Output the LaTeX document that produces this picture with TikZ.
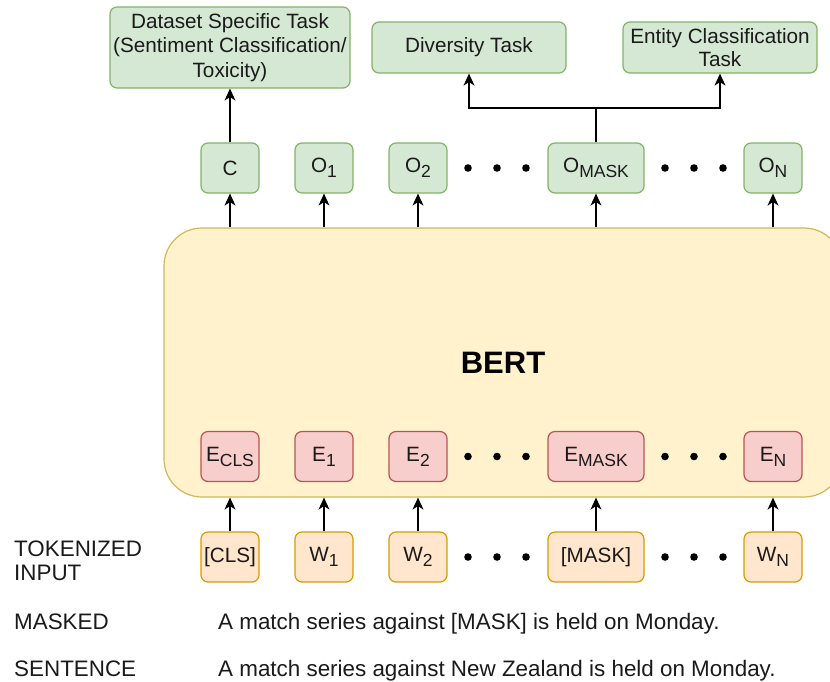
\documentclass[tikz,border=0pt]{standalone}
\usepackage{fontspec}
\setmainfont{Liberation Sans}
\usetikzlibrary{arrows.meta}
\definecolor{gfill}{HTML}{D5E8D4}
\definecolor{gdraw}{HTML}{82B366}
\definecolor{rfill}{HTML}{F8CECC}
\definecolor{rdraw}{HTML}{B85450}
\definecolor{ofill}{HTML}{FFE6CC}
\definecolor{odraw}{HTML}{D79B00}
\definecolor{yfill}{HTML}{FFF2CC}
\definecolor{ydraw}{HTML}{D6B656}
\definecolor{txt}{HTML}{1A1A1A}
\newcommand{\lsub}[1]{\raisebox{-0.45ex}{\fontsize{17.5}{17.5}\selectfont #1}}
\begin{document}
\begin{tikzpicture}[x=1pt,y=-1pt,
  box/.style={rounded corners=7pt, line width=1.2pt, minimum height=50pt, minimum width=58pt,
    inner sep=0pt, font=\fontsize{20.7}{24.5}\selectfont, text=txt, align=center},
  gbox/.style={box, fill=gfill, draw=gdraw},
  rbox/.style={box, fill=rfill, draw=rdraw},
  obox/.style={box, fill=ofill, draw=odraw},
  wide/.style={minimum width=96pt},
  arr/.style={-{Stealth[length=12pt,width=11pt,inset=3.5pt]}, line width=1.4pt, draw=black},
  lbl/.style={anchor=base west, inner sep=0pt, font=\fontsize{22.4}{24}\selectfont, text=txt},
  dotc/.style={fill=black}
]
\useasboundingbox (0,0) rectangle (830,681);

% BERT block
\node[draw=ydraw, fill=yfill, line width=1.2pt, rounded corners=38pt,
  minimum width=678pt, minimum height=269pt, inner sep=0pt,
  font=\bfseries\fontsize{31}{34}\selectfont, text=black] (bert) at (503,362.5) {BERT};

% Top task boxes
\node[gbox, minimum width=240pt, minimum height=81pt] (ds) at (230,47.5)
  {Dataset Specific Task\\(Sentiment Classification/\\Toxicity)};
\node[gbox, minimum width=194pt, minimum height=51pt] (div) at (469,47.5) {Diversity Task};
\node[gbox, minimum width=194pt, minimum height=51pt, font=\fontsize{20.7}{23}\selectfont] (ent) at (720,47.5) {Entity Classification\\Task};

% Output row
\node[gbox] (oc) at (230,168) {C};
\node[gbox] (o1) at (324,168) {O\lsub{1}};
\node[gbox] (o2) at (418,168) {O\lsub{2}};
\node[gbox, wide] (om) at (596,168) {O\lsub{MASK}};
\node[gbox] (on) at (773,168) {O\lsub{N}};

% Embedding row
\node[rbox] (ec) at (230,456.5) {E\lsub{CLS}};
\node[rbox] (e1) at (324,456.5) {E\lsub{1}};
\node[rbox] (e2) at (418,456.5) {E\lsub{2}};
\node[rbox, wide] (em) at (596,456.5) {E\lsub{MASK}};
\node[rbox] (en) at (773,456.5) {E\lsub{N}};

% Token row
\node[obox] (wc) at (230,557) {[CLS]};
\node[obox] (w1) at (324,557) {W\lsub{1}};
\node[obox] (w2) at (418,557) {W\lsub{2}};
\node[obox, wide] (wm) at (596,557) {[MASK]};
\node[obox] (wn) at (773,557) {W\lsub{N}};

% dots
\foreach \y in {168,456.5,557}{
  \foreach \x in {468,497,526,665,694,723}{
    \fill[dotc] (\x,\y) circle (3.8pt);
  }
}

% arrows token -> BERT
\foreach \n in {wc,w1,w2,wm,wn}{
  \draw[arr] (\n.north) -- (\n.north |- bert.south);
}
% arrows BERT -> outputs
\foreach \n in {oc,o1,o2,om,on}{
  \draw[arr] (\n.south |- bert.north) -- (\n.south);
}
% C -> dataset task
\draw[arr] (oc.north) -- (ds.south);
% O_MASK -> diversity, entity
\coordinate (j) at (596,108);
\draw[line width=1.4pt] (om.north) -- (j);
\draw[arr] (j) -| (div.south);
\draw[arr] (j) -| (ent.south);

% labels
\node[lbl] (t1) at (14,556) {TOKENIZED};
\node[lbl] (t2) at (14,580) {INPUT};
\node[lbl] (t3) at (14,629) {MASKED};
\node[lbl] (t4) at (14,676) {SENTENCE};
\node[lbl] (s1) at (218,629) {A match series against [MASK] is held on Monday.};
\node[lbl] (s2) at (218,676) {A match series against New Zealand is held on Monday.};
\end{tikzpicture}
\end{document}
